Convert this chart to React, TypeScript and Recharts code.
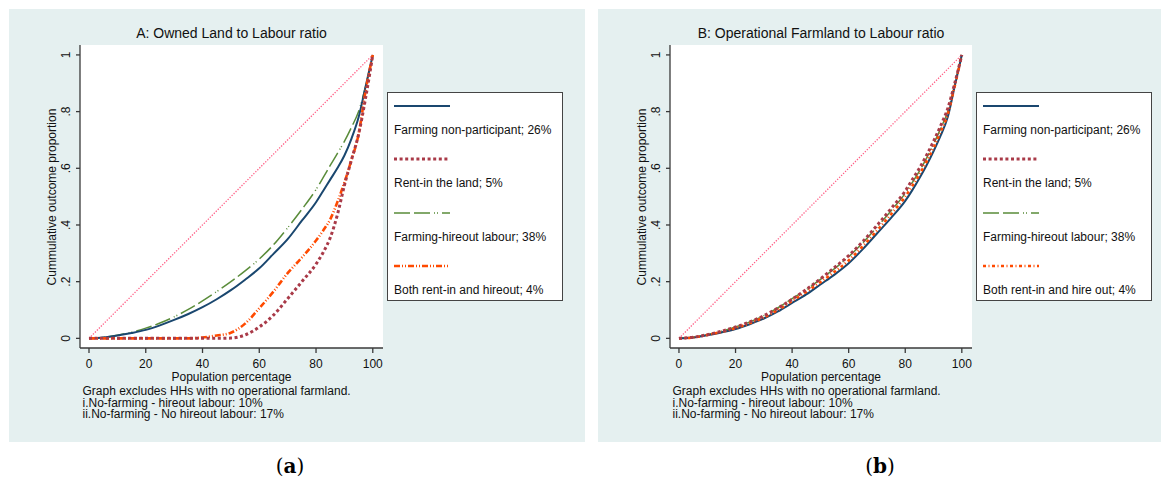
import React from 'react';
import { LineChart, Line, XAxis, YAxis, CartesianGrid } from 'recharts';

// ---------- data ----------
const popGrid = [0, 5, 10, 15, 20, 25, 30, 35, 40, 45, 50, 55, 60, 65, 70, 75, 80, 82.5, 85, 87.5, 90, 92.5, 95, 97.5, 100];

// Panel A: Owned land to labour ratio
const aNonParticipant = [0, 0.003, 0.01, 0.019, 0.03, 0.046, 0.065, 0.086, 0.11, 0.138, 0.17, 0.207, 0.247, 0.298, 0.35, 0.415, 0.48, 0.52, 0.56, 0.6, 0.645, 0.705, 0.78, 0.89, 1];
const aRentIn = [0, 0, 0, 0, 0, 0, 0, 0, 0, 0, 0.001, 0.012, 0.04, 0.082, 0.14, 0.2, 0.262, 0.303, 0.355, 0.435, 0.54, 0.63, 0.72, 0.85, 1];
const aHireout = [0, 0.003, 0.011, 0.022, 0.036, 0.054, 0.076, 0.102, 0.132, 0.165, 0.2, 0.238, 0.28, 0.33, 0.39, 0.455, 0.525, 0.567, 0.61, 0.652, 0.695, 0.745, 0.8, 0.89, 1];
const aBoth = [0, 0, 0, 0, 0, 0, 0, 0, 0.003, 0.01, 0.02, 0.052, 0.106, 0.165, 0.23, 0.285, 0.345, 0.38, 0.42, 0.48, 0.55, 0.63, 0.72, 0.875, 1];

// Panel B: Operational farmland to labour ratio
const bNonParticipant = [0, 0.003, 0.011, 0.021, 0.033, 0.05, 0.07, 0.095, 0.125, 0.155, 0.19, 0.225, 0.265, 0.315, 0.37, 0.425, 0.485, 0.523, 0.565, 0.61, 0.66, 0.715, 0.78, 0.89, 1];
const bRentIn = [0, 0.004, 0.013, 0.025, 0.04, 0.058, 0.08, 0.107, 0.138, 0.172, 0.21, 0.25, 0.292, 0.342, 0.398, 0.458, 0.52, 0.56, 0.6, 0.645, 0.695, 0.75, 0.81, 0.9, 1];
const bHireout = [0, 0.004, 0.013, 0.025, 0.04, 0.058, 0.08, 0.108, 0.14, 0.172, 0.208, 0.246, 0.288, 0.337, 0.392, 0.45, 0.512, 0.55, 0.59, 0.635, 0.685, 0.74, 0.8, 0.895, 1];
const bBoth = [0, 0.003, 0.012, 0.023, 0.036, 0.053, 0.074, 0.1, 0.132, 0.164, 0.198, 0.235, 0.275, 0.325, 0.38, 0.438, 0.5, 0.538, 0.578, 0.623, 0.672, 0.728, 0.79, 0.89, 1];

// line of equality
const equalityX = [0, 100];
const equalityY = [0, 1];

const xTicks = [0, 20, 40, 60, 80, 100];
const yTicks = [0, 0.2, 0.4, 0.6, 0.8, 1];

const titleA = 'A: Owned Land to Labour ratio';
const titleB = 'B: Operational Farmland to Labour ratio';
const legendA = ['Farming non-participant; 26%', 'Rent-in the land; 5%', 'Farming-hireout labour; 38%', 'Both rent-in and hireout; 4%'];
const legendB = ['Farming non-participant; 26%', 'Rent-in the land; 5%', 'Farming-hireout labour; 38%', 'Both rent-in and hire out; 4%'];
const notes = ['Graph excludes HHs with no operational farmland.', 'i.No-farming - hireout labour: 10%', 'ii.No-farming - No hireout labour: 17%'];
const xLabel = 'Population percentage';
const yLabel = 'Cummulative outcome proportion';

// ---------- styles ----------
const FONT = '"Liberation Sans", Arial, Helvetica, sans-serif';
const BG = '#e5f0f0';
const AXIS = '#3a3a3a';
const TEXT = '#111';

type SeriesStyle = { color: string; width: number; dash?: string };
const stylesA: SeriesStyle[] = [
  { color: '#1a476f', width: 2 },
  { color: '#a93a48', width: 3, dash: '3 2.6' },
  { color: '#5a8c3a', width: 1.5, dash: '16 4 16 4 1 2 1 4' },
  { color: '#ff4a00', width: 2.6, dash: '6 2 1 2 1 2' },
];
const stylesB: SeriesStyle[] = [
  { color: '#1a476f', width: 2 },
  { color: '#a93a48', width: 3, dash: '3 2.6' },
  { color: '#5a8c3a', width: 1.5, dash: '16 4 16 4 1 2 1 4' },
  { color: '#ff4a00', width: 2.6, dash: '3 2.5 1 2.5' },
];
const equalityStyle = { color: '#ff5f86', width: 1.3, dash: '1.3 1.5' };

function buildRows(s1: number[], s2: number[], s3: number[], s4: number[]) {
  const rows: any[] = popGrid.map((x, i) => ({ x, s1: s1[i], s2: s2[i], s3: s3[i], s4: s4[i] }));
  equalityX.forEach((x, i) => {
    const r = rows.find((row) => row.x === x);
    if (r) r.eq = equalityY[i];
  });
  return rows;
}

const dataA = buildRows(aNonParticipant, aRentIn, aHireout, aBoth);
const dataB = buildRows(bNonParticipant, bRentIn, bHireout, bBoth);

const fmtY = (v: number) => {
  if (v === 0) return '0';
  if (v === 1) return '1';
  return String(Math.round(v * 10) / 10).replace(/^0/, '');
};

const YTick = (props: any) => {
  const { x, y, payload } = props;
  const bx = x - 4;
  return (
    <text x={bx} y={y} transform={`rotate(-90 ${bx} ${y})`} textAnchor="middle" fontSize={12} fill={TEXT} fontFamily={FONT}>
      {fmtY(payload.value)}
    </text>
  );
};

type PanelProps = {
  left: number;
  width: number;
  yAxisWidth: number;
  rightMargin: number;
  data: any[];
  styles: SeriesStyle[];
  title: string;
  legend: string[];
};

function Panel({ left, width, yAxisWidth, rightMargin, data, styles, title, legend }: PanelProps) {
  const height = 433;
  const plotLeft = left + yAxisWidth;
  const plotRight = left + width - rightMargin;
  const plotCenter = (plotLeft + plotRight) / 2;
  const legendLeft = plotRight + 4;
  const rowLineY = [106, 159, 213, 266];
  const rowTextY = [129.5, 182.5, 236.5, 290];
  return (
    <>
      <div style={{ position: 'absolute', left, top: 9, width, height, background: BG }} />
      <div style={{ position: 'absolute', left, top: 9 }}>
        <LineChart width={width} height={height} data={data} margin={{ top: 36, right: rightMargin, bottom: 64, left: 0 }}>
          <CartesianGrid horizontal={false} vertical={false} fill="#ffffff" stroke="none" />
          <XAxis
            dataKey="x"
            type="number"
            domain={[-3.17, 103.6]}
            allowDataOverflow
            ticks={xTicks}
            height={30}
            tickSize={5}
            tickMargin={6}
            stroke={AXIS}
            strokeWidth={1.3}
            tick={{ fontSize: 12, fill: TEXT, fontFamily: FONT }}
          />
          <YAxis
            type="number"
            domain={[-0.034, 1.035]}
            allowDataOverflow
            ticks={yTicks}
            width={yAxisWidth}
            tickSize={4}
            tickMargin={2}
            stroke={AXIS}
            strokeWidth={1.3}
            tick={<YTick />}
          />
          <Line dataKey="eq" connectNulls type="linear" stroke={equalityStyle.color} strokeWidth={equalityStyle.width} strokeDasharray={equalityStyle.dash} dot={false} isAnimationActive={false} />
          <Line dataKey="s3" type="monotone" stroke={styles[2].color} strokeWidth={styles[2].width} strokeDasharray={styles[2].dash} dot={false} isAnimationActive={false} />
          <Line dataKey="s1" type="monotone" stroke={styles[0].color} strokeWidth={styles[0].width} dot={false} isAnimationActive={false} />
          <Line dataKey="s4" type="monotone" stroke={styles[3].color} strokeWidth={styles[3].width} strokeDasharray={styles[3].dash} dot={false} isAnimationActive={false} />
          <Line dataKey="s2" type="monotone" stroke={styles[1].color} strokeWidth={styles[1].width} strokeDasharray={styles[1].dash} dot={false} isAnimationActive={false} />
        </LineChart>
      </div>
      {/* title */}
      <div style={{ position: 'absolute', left: plotCenter - 200, width: 400, top: 25, textAlign: 'center', fontSize: 14, fontFamily: FONT, color: TEXT, lineHeight: '17px', whiteSpace: 'nowrap' }}>
        {title}
      </div>
      {/* y label */}
      <div style={{ position: 'absolute', left: plotLeft - 28 - 150, top: 196.5 - 8, width: 300, height: 16, lineHeight: '16px', textAlign: 'center', fontSize: 12, fontFamily: FONT, color: TEXT, transform: 'rotate(-90deg)', whiteSpace: 'nowrap' }}>
        {yLabel}
      </div>
      {/* x label */}
      <div style={{ position: 'absolute', left: plotCenter - 150, width: 300, top: 370.5, textAlign: 'center', fontSize: 12, fontFamily: FONT, color: TEXT, lineHeight: '12px', whiteSpace: 'nowrap' }}>
        {xLabel}
      </div>
      {/* notes */}
      {notes.map((n, i) => (
        <div key={n} style={{ position: 'absolute', left: plotLeft + 2.5, top: 386 + i * 11.7, height: 11.7, fontSize: 12, fontFamily: FONT, color: TEXT, lineHeight: '11.7px', whiteSpace: 'nowrap' }}>
          {n}
        </div>
      ))}
      {/* legend */}
      <div style={{ position: 'absolute', left: legendLeft, top: 92, width: 176, height: 209, boxSizing: 'border-box', border: '1.3px solid #444', background: '#fff' }} />
      <svg style={{ position: 'absolute', left: 0, top: 0, overflow: 'visible' }} width={1} height={1}>
        {legend.map((_, i) => (
          <line
            key={i}
            x1={legendLeft + 7}
            x2={legendLeft + 63}
            y1={rowLineY[i]}
            y2={rowLineY[i]}
            stroke={styles[i].color}
            strokeWidth={styles[i].width}
            strokeDasharray={styles[i].dash}
          />
        ))}
      </svg>
      {legend.map((t, i) => (
        <div key={t} style={{ position: 'absolute', left: legendLeft + 7, top: rowTextY[i] - 8, height: 16, lineHeight: '16px', fontSize: 12, fontFamily: FONT, color: TEXT, whiteSpace: 'nowrap' }}>
          {t}
        </div>
      ))}
    </>
  );
}

export default function App() {
  return (
    <div style={{ position: 'absolute', left: 0, top: 0, width: 1164, height: 486, background: '#fff', overflow: 'hidden' }}>
      <Panel left={9} width={576} yAxisWidth={71} rightMargin={202} data={dataA} styles={stylesA} title={titleA} legend={legendA} />
      <Panel left={598} width={563} yAxisWidth={72} rightMargin={189} data={dataB} styles={stylesB} title={titleB} legend={legendB} />
      <div style={{ position: 'absolute', left: 240, width: 100, top: 454, textAlign: 'center', fontFamily: '"DejaVu Serif", "Liberation Serif", serif', fontSize: 20, lineHeight: '24px' }}>
        (<b>a</b>)
      </div>
      <div style={{ position: 'absolute', left: 830, width: 100, top: 454, textAlign: 'center', fontFamily: '"DejaVu Serif", "Liberation Serif", serif', fontSize: 20, lineHeight: '24px' }}>
        (<b>b</b>)
      </div>
    </div>
  );
}
